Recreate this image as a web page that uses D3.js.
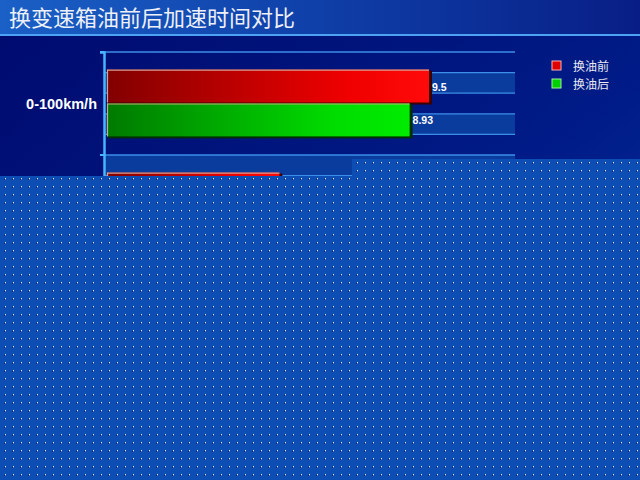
<!DOCTYPE html>
<html><head><meta charset="utf-8">
<script src="https://cdn.jsdelivr.net/npm/d3@7"></script>
<style>html,body{margin:0;padding:0;background:#001070;overflow:hidden}</style>
</head><body>
<svg id="c" width="640" height="480"></svg>
<script>
const title = "换变速箱油前后加速时间对比";
const categories = ["0-100km/h", "0-60km/h"];
const seriesNames = ["换油前", "换油后"];
const before = [9.5, 5.1];
const after = [8.93, 4.8];
const xMax = 12;

const svg = d3.select("#c");
const defs = svg.append("defs");
function lg(id, stops, x2 = "100%", y2 = "0%") {
  const g = defs.append("linearGradient").attr("id", id).attr("x1", "0%").attr("y1", "0%").attr("x2", x2).attr("y2", y2);
  stops.forEach(s => g.append("stop").attr("offset", s[0]).attr("stop-color", s[1]));
}
lg("bgMain", [["0%", "#000a6e"], ["60%", "#001c88"], ["100%", "#0a3aa8"]], "100%", "100%");
lg("bgTitle", [["0%", "#1a60c6"], ["50%", "#0f3fa8"], ["100%", "#081e86"]]);
lg("gRed", [["0%", "#820000"], ["75%", "#f00000"], ["100%", "#ff0a0a"]]);
lg("gGreen", [["0%", "#007a00"], ["75%", "#00dc00"], ["100%", "#00ec00"]]);
const pat = defs.append("pattern").attr("id", "dots").attr("patternUnits", "userSpaceOnUse")
  .attr("width", 8).attr("height", 8);
pat.append("rect").attr("width", 8).attr("height", 8).attr("fill", "#0c4eb4");
pat.append("rect").attr("x", 5).attr("y", 2).attr("width", 1).attr("height", 1).attr("fill", "#d8e4ff");
pat.append("rect").attr("x", 4).attr("y", 3).attr("width", 1).attr("height", 1).attr("fill", "#061870");
pat.append("rect").attr("x", 5).attr("y", 3).attr("width", 1).attr("height", 1).attr("fill", "#5a7ad0");

// backgrounds
svg.append("rect").attr("width", 640).attr("height", 480).attr("fill", "url(#bgMain)");
svg.append("rect").attr("width", 640).attr("height", 34).attr("fill", "url(#bgTitle)");
svg.append("rect").attr("y", 34).attr("width", 640).attr("height", 2).attr("fill", "#4ea2f4");
svg.append("text").attr("x", 9).attr("y", 25.5).attr("fill", "#eef0f8")
  .attr("font-family", "Noto Sans CJK SC").attr("font-size", 22).text(title);

// scales
const x = d3.scaleLinear().domain([0, xMax]).range([107, 515]);
const y = d3.scaleBand().domain(categories).range([52, 258]).paddingInner(0).paddingOuter(0);
const sub = d3.scaleBand().domain(seriesNames).range([0, y.bandwidth()]).paddingInner(0).paddingOuter(0.52);

// bands + gridlines (5 per category)
const lineYs = [];
categories.forEach(c => { for (let i = 0; i < 5; i++) lineYs.push(y(c) + i * y.bandwidth() / 5); });
lineYs.push(y.range()[1]);
const step = y.bandwidth() / 5;
svg.append("g").selectAll("rect").data(lineYs.filter((d, i) => i % 2 === 1)).join("rect")
  .attr("x", x(0) - 3).attr("y", d => d).attr("width", x(xMax) - x(0) + 3).attr("height", step)
  .attr("fill", "#0a3c9e");
svg.append("g").selectAll("line").data(lineYs).join("line")
  .attr("x1", x(0) - 3).attr("x2", x(xMax)).attr("y1", d => d).attr("y2", d => d)
  .attr("stroke", "#3d8ee8").attr("stroke-width", 1.3);

// axis
const yAxis = d3.axisLeft(y).tickSize(4).tickFormat("");
const ax = svg.append("g").attr("transform", `translate(${x(0) - 3},0)`).call(yAxis);
ax.selectAll("line").attr("stroke", "#46b4ff").attr("stroke-width", 2)
  .attr("transform", (d) => `translate(0,${-y.bandwidth() / 2})`);
ax.select(".domain").attr("stroke", "#46b4ff").attr("stroke-width", 2.5);
ax.selectAll("text").remove();

svg.append("g").selectAll("text").data(categories).join("text")
  .attr("x", 97).attr("y", c => y(c) + y.bandwidth() / 2 + 5).attr("text-anchor", "end")
  .attr("fill", "#ffffff").attr("font-family", "Liberation Sans, Arial").attr("font-weight", "bold")
  .attr("font-size", 14.5).text(d => d);

// bars
const series = [
  { name: seriesNames[0], values: before, fill: "url(#gRed)", dark: "#3a0000", edge: "#d8a090" },
  { name: seriesNames[1], values: after, fill: "url(#gGreen)", dark: "#003000", edge: "#c8b078" }
];
series.forEach(s => {
  const g = svg.append("g");
  const data = categories.map((c, i) => ({ c, v: s.values[i] }));
  const y0 = d => y(d.c) + sub(s.name);
  const h = sub.bandwidth();
  g.selectAll("rect.sh").data(data).join("rect").attr("class", "sh")
    .attr("x", x(0) + 1).attr("y", d => y0(d) + 1).attr("width", d => x(d.v) - x(0) + 1).attr("height", h)
    .attr("fill", s.dark);
  g.selectAll("rect.b").data(data).join("rect").attr("class", "b")
    .attr("x", x(0)).attr("y", d => y0(d)).attr("width", d => x(d.v) - x(0) - 1).attr("height", h - 1)
    .attr("fill", s.fill);
  g.selectAll("line.t").data(data).join("line").attr("class", "t")
    .attr("x1", x(0)).attr("x2", d => x(d.v) - 1).attr("y1", d => y0(d) + 0.5).attr("y2", d => y0(d) + 0.5)
    .attr("stroke", s.edge).attr("stroke-width", 1.2);
  g.selectAll("line.l").data(data).join("line").attr("class", "l")
    .attr("x1", x(0) + 0.5).attr("x2", x(0) + 0.5).attr("y1", d => y0(d)).attr("y2", d => y0(d) + h - 1)
    .attr("stroke", s.edge).attr("stroke-width", 1.2);
  g.selectAll("text").data(data).join("text")
    .attr("x", d => x(d.v) + 2).attr("y", d => y0(d) + h / 2 + 4)
    .attr("fill", "#ffffff").attr("font-family", "Liberation Sans, Arial").attr("font-weight", "bold")
    .attr("font-size", 10.5).text(d => d.v);
});

// legend
const leg = svg.append("g").attr("transform", "translate(552,61)");
series.forEach((s, i) => {
  const r = leg.append("g").attr("transform", `translate(0,${i * 18})`);
  r.append("rect").attr("width", 9).attr("height", 9).attr("fill", i === 0 ? "#e00000" : "#00d000")
    .attr("stroke", i === 0 ? "#ffb0b0" : "#a0f0a0").attr("stroke-width", 1);
  r.append("text").attr("x", 21).attr("y", 9.5).attr("fill", "#e8e8f0")
    .attr("font-family", "Noto Sans CJK SC").attr("font-size", 12).text(s.name);
});

// dotted overlay
svg.append("path").attr("d", "M0,176 L352,176 L352,159 L640,159 L640,480 L0,480 Z")
  .attr("fill", "url(#dots)");
</script>
</body></html>
